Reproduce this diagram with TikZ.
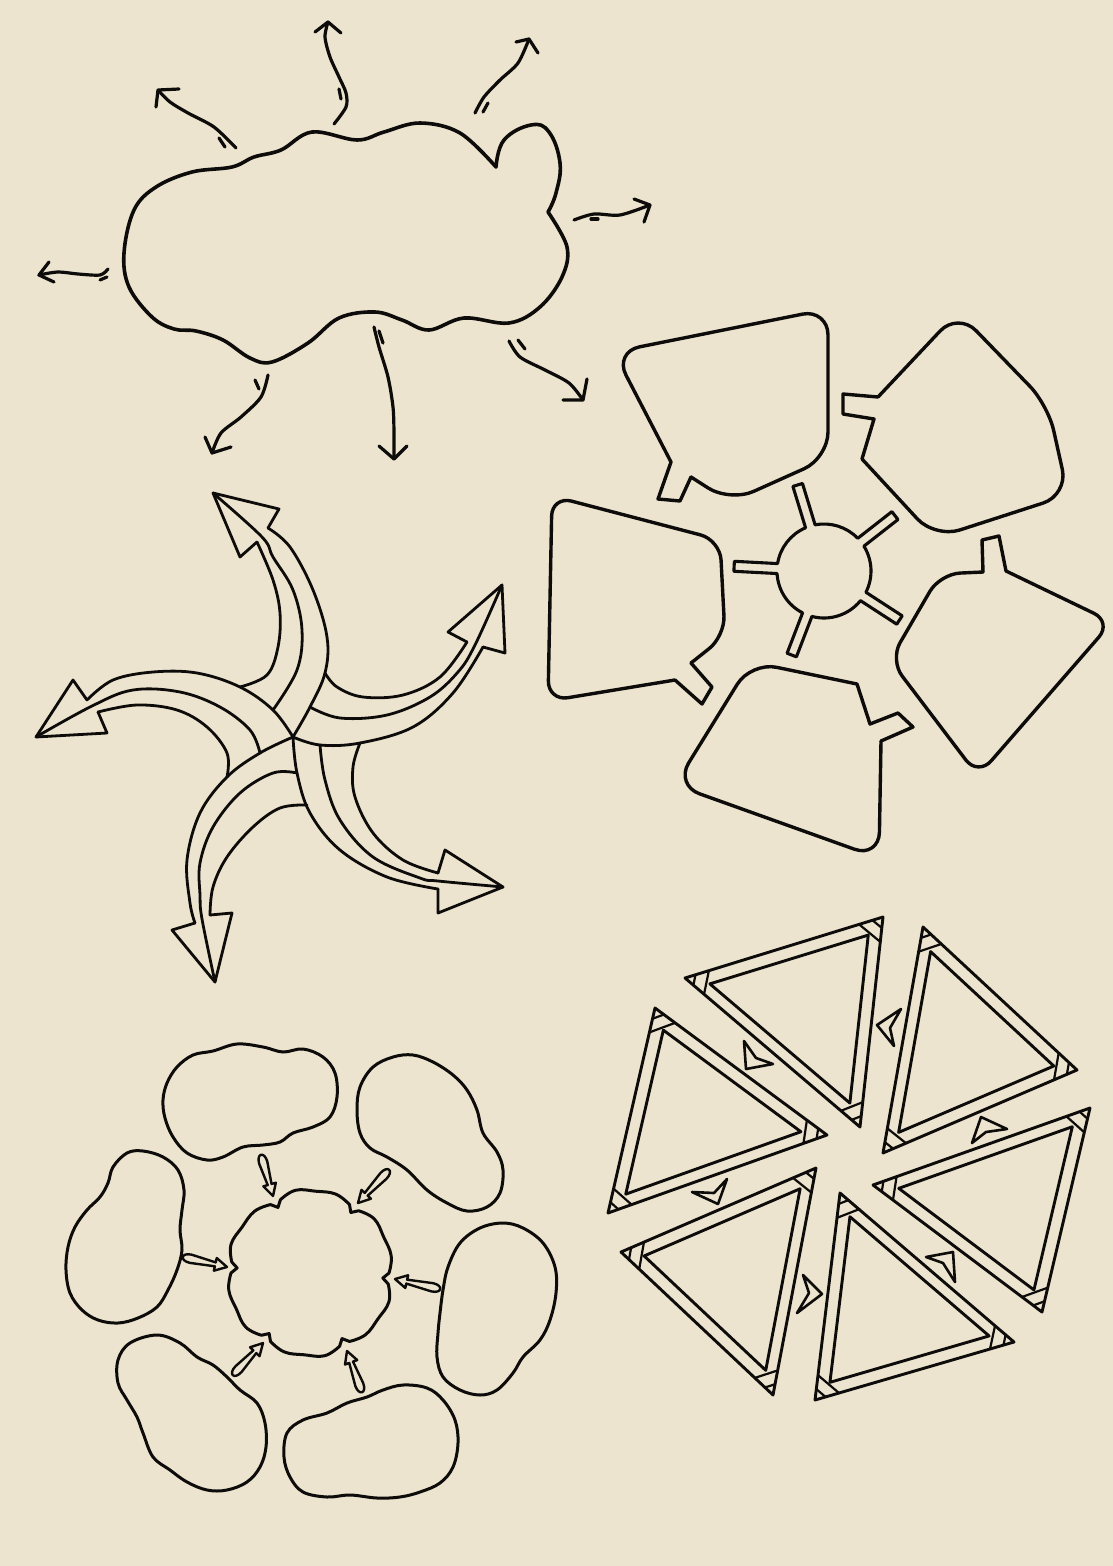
\documentclass[tikz,border=0pt]{standalone}
\usetikzlibrary{calc}
\definecolor{bgc}{RGB}{236,228,207}
\definecolor{inkc}{RGB}{14,12,10}
\tikzset{
  ink/.style={draw=inkc, line width=3.2pt, line cap=round, line join=round},
  cloudline/.style={ink, line width=3.6pt},
  arr/.style={ink, line width=3.2pt},
  lobe/.style={ink, line width=3.4pt},
  rib/.style={ink, line width=2.8pt},
  tri/.style={ink, line width=2.9pt},
  chev/.style={ink, line width=2.6pt},
  blob/.style={ink, line width=3pt},
  drop/.style={ink, line width=2.4pt},
}
\newcommand\hextri[3]{%
  \coordinate (tA) at #1;
  \coordinate (tB) at #2;
  \coordinate (tC) at #3;
  \coordinate (tG) at (barycentric cs:tA=1,tB=1,tC=1);
  \draw[tri] (tA) -- (tB) -- (tC) -- cycle;
  \draw[tri] ($(tG)!0.8!(tA)$) -- ($(tG)!0.8!(tB)$) -- ($(tG)!0.8!(tC)$) -- cycle;
  \foreach \v/\p/\q in {tA/tB/tC,tB/tC/tA,tC/tA/tB}{%
    \draw[tri, line width=2.2pt] ($(\v)!11pt!(\p)$) -- ($(\v)!11pt!(\q)$);
    \draw[tri, line width=2.2pt] ($(\v)!25pt!(\p)$) -- ($(\v)!25pt!(\q)$);
  }%
}
\newcommand\dropArrow[2]{%
  \coordinate (aT) at #1;
  \coordinate (aP) at #2;
  \coordinate (aB) at ($(aP)!12pt!(aT)$);
  \coordinate (aW) at ($(aT)!8pt!(aP)$);
  \coordinate (aE) at ($(aT)!-3pt!(aP)$);
  \draw[drop] ($(aB)!2pt!90:(aP)$) -- ($(aW)!4.2pt!90:(aP)$)
     .. controls ($(aE)!4.2pt!90:(aP)$) and ($(aE)!4.2pt!270:(aP)$) .. ($(aW)!4.2pt!270:(aP)$)
     -- ($(aB)!2pt!270:(aP)$) -- ($(aB)!6.5pt!270:(aP)$) -- (aP) -- ($(aB)!6.5pt!90:(aP)$) -- cycle;
}
\begin{document}
\begin{tikzpicture}[x=1pt,y=-1pt]
\fill[bgc] (0,0) rectangle (1113,1566);
\useasboundingbox (0,0) rectangle (1113,1566);

%================ CLOUD =================
\draw[cloudline] plot[smooth, tension=0.6] coordinates {(548,212) (567,247) (562,277) (540,307) (509,323) (464,318) (429,330) (402,320) (375,312) (339,318) (308,343) (272,362) (250,358) (223,340) (196,331) (174,329) (152,317) (129,287) (124,253) (134,210) (156,187) (192,172) (232,167) (254,157) (281,150) (312,132) (357,140) (384,132) (420,123) (460,133) (496,167)};
\draw[cloudline] plot[smooth, tension=0.7] coordinates {(496,167) (504,140) (531,125) (549,132) (560,163) (556,193) (548,212)};

% arrows around the cloud
\draw[arr] plot[smooth] coordinates {(236,148) (214,127) (188,113) (170,102) (158,90)};
\draw[arr] (179,89) -- (158,90) -- (156,107);
\draw[arr] (219,138) -- (225,147);

\draw[arr] plot[smooth] coordinates {(334,124) (346,107) (346,93) (339,77) (330,57) (325,37) (328,22)};
\draw[arr] (315,32) -- (328,22) -- (341,33);
\draw[arr] (339,89) -- (341,99);

\draw[arr] plot[smooth] coordinates {(475,113) (484,97) (500,80) (518,63) (529,39)};
\draw[arr] (516,42) -- (529,39) -- (538,53);
\draw[arr] (483,112) -- (488,103);

\draw[arr] plot[smooth] coordinates {(574,220) (594,214) (620,215) (650,205)};
\draw[arr] (634,199) -- (650,205) -- (644,222);
\draw[arr] (591,219) -- (598,219);

\draw[arr] plot[smooth] coordinates {(108,269) (100,275) (78,274) (58,272) (39,275)};
\draw[arr] (49,262) -- (39,275) -- (54,282);
\draw[arr] (100,280) -- (107,277);

\draw[arr] plot[smooth] coordinates {(268,375) (261,397) (241,417) (221,433) (212,453)};
\draw[arr] (205,437) -- (212,453) -- (231,447);
\draw[arr] (255,380) -- (259,389);

\draw[arr] plot[smooth] coordinates {(374,327) (379,347) (388,377) (393,407) (394,433) (394,459)};
\draw[arr] (379,446) -- (394,459) -- (407,446);
\draw[arr] (379,331) -- (383,343);

\draw[arr] plot[smooth] coordinates {(509,341) (520,357) (545,370) (569,383) (583,400)};
\draw[arr] (563,400) -- (583,400) -- (587,379);
\draw[arr] (518,340) -- (525,349);

%================ FLOWER OF LOBES =================
% lobe 1 (top)
\draw[lobe, rounded corners=26pt] (691,477) -- (730,502) -- (828,458) -- (828,309) -- (614,352) -- (671,462);
\draw[lobe] (671,462) -- (658,499) -- (680,501) -- (691,477);
% lobe 2 (upper right)
\draw[lobe, rounded corners=26pt] (862,459) -- (935,538) -- (1068,495) -- (1048,405) -- (958,312) -- (878,397);
\draw[lobe] (878,397) -- (843,394) -- (843,414) -- (874,419) -- (862,459);
% lobe 3 (right)
\draw[lobe, rounded corners=20pt] (1006,571) -- (1112,622) -- (978,776) -- (890,660) -- (940,574) -- (983,572);
\draw[lobe] (983,572) -- (982,540) -- (999,536) -- (1006,571);
% lobe 4 (bottom)
\draw[lobe, rounded corners=26pt] (881,741) -- (879,858) -- (675,785) -- (751,662) -- (857,684);
\draw[lobe] (857,684) -- (870,724) -- (898,713) -- (913,727) -- (881,741);
% lobe 5 (left)
\draw[lobe, rounded corners=20pt] (675,680) -- (548,701) -- (552,496) -- (720,540) -- (725,636) -- (691,663);
\draw[lobe] (691,663) -- (712,687) -- (702,704) -- (675,680);
% hub
\begin{scope}[shift={(824,571)}, yscale=-1]
\draw[lobe, line width=3.1pt] (-104.9:47) arc[start angle=-104.9, end angle=-39.1, radius=47]
  -- ($(-33:90)+(-123:5)$) -- ($(-33:90)+(57:5)$) -- (-26.9:47)
  arc[start angle=-26.9, end angle=31.9, radius=47]
  -- ($(38:90)+(-52:5)$) -- ($(38:90)+(128:5)$) -- (44.1:47)
  arc[start angle=44.1, end angle=100.9, radius=47]
  -- ($(107:90)+(17:5)$) -- ($(107:90)+(197:5)$) -- (113.1:47)
  arc[start angle=113.1, end angle=170.9, radius=47]
  -- ($(177:90)+(87:5)$) -- ($(177:90)+(267:5)$) -- (183.1:47)
  arc[start angle=183.1, end angle=242.9, radius=47]
  -- ($(249:90)+(159:5)$) -- ($(249:90)+(339:5)$) -- cycle;
\end{scope}

%================ RIBBON PINWHEEL ARROWS =================
% up arm
\draw[rib] plot[smooth, tension=0.6] coordinates {(240,687) (267,675) (278,647) (280,613) (273,580) (257,542)};
\draw[rib] plot[smooth, tension=0.6] coordinates {(273,710) (297,670) (302,630) (293,590) (273,557) (262,537) (213,493)};
\draw[rib] plot[smooth, tension=0.6] coordinates {(293,737) (310,707) (325,673) (327,637) (313,590) (290,547) (268,528)};
\draw[rib] (257,542) -- (240,557) -- (213,493) -- (279,509) -- (268,528);
% right-up arm
\draw[rib] plot[smooth, tension=0.6] coordinates {(325,673) (337,687) (363,697) (403,695) (440,677) (467,642)};
\draw[rib] plot[smooth, tension=0.6] coordinates {(310,707) (340,718) (387,715) (430,697) (458,672) (475,645) (502,585)};
\draw[rib] plot[smooth, tension=0.6] coordinates {(293,737) (320,745) (360,743) (413,727) (453,693) (483,647)};
\draw[rib] (467,642) -- (448,632) -- (502,585) -- (505,653) -- (483,647);
% right-down arm
\draw[rib] plot[smooth, tension=0.6] coordinates {(360,743) (353,767) (355,797) (373,833) (403,860) (438,873)};
\draw[rib] plot[smooth, tension=0.6] coordinates {(320,745) (325,780) (340,820) (373,857) (420,878) (438,881) (503,887)};
\draw[rib] plot[smooth, tension=0.6] coordinates {(293,737) (297,773) (310,813) (340,850) (387,877) (438,889)};
\draw[rib] (438,873) -- (445,850) -- (503,887) -- (438,913) -- (438,889);
% down arm
\draw[rib] plot[smooth, tension=0.6] coordinates {(307,805) (280,808) (253,827) (227,857) (213,887) (210,915)};
\draw[rib] plot[smooth, tension=0.6] coordinates {(297,773) (273,773) (240,793) (213,827) (200,863) (200,895) (202,919) (215,982)};
\draw[rib] plot[smooth, tension=0.6] coordinates {(293,737) (260,753) (227,777) (200,813) (187,860) (190,903) (195,923)};
\draw[rib] (210,915) -- (232,913) -- (215,982) -- (172,930) -- (195,923);
% left arm
\draw[rib] plot[smooth, tension=0.6] coordinates {(227,777) (227,753) (207,727) (177,710) (137,705) (98,712)};
\draw[rib] plot[smooth, tension=0.6] coordinates {(260,753) (250,730) (220,707) (180,692) (133,690) (92,706) (36,737)};
\draw[rib] plot[smooth, tension=0.6] coordinates {(293,737) (273,710) (240,687) (197,673) (153,672) (113,680) (87,700)};
\draw[rib] (98,712) -- (107,733) -- (36,737) -- (73,680) -- (87,700);

%================ TRIANGLE WHEEL =================
\hextri{(685,978)}{(883,917)}{(860,1127)}
\hextri{(923,927)}{(1077,1070)}{(883,1153)}
\hextri{(1090,1108)}{(1042,1312)}{(873,1185)}
\hextri{(840,1193)}{(1014,1342)}{(815,1400)}
\hextri{(816,1168)}{(773,1395)}{(621,1252)}
\hextri{(655,1008)}{(827,1135)}{(608,1213)}
% chevrons
\draw[chev] (744,1041) -- (746,1069) -- (773,1064) -- (756,1058) -- cycle;
\draw[chev] (901,1009) -- (877,1025) -- (894,1046) -- (890,1028) -- cycle;
\draw[chev] (972,1143) -- (981,1117) -- (1007,1129) -- (986,1132) -- cycle;
\draw[chev] (926,1257) -- (953,1252) -- (955,1282) -- (943,1263) -- cycle;
\draw[chev] (692,1192) -- (718,1204) -- (727,1179) -- (714,1193) -- cycle;
\draw[chev] (803,1275) -- (822,1294) -- (797,1313) -- (809,1293) -- cycle;

%================ BLOBS =================
\begin{scope}[shift={(310,1273)}, yscale=-1]
\draw[blob] (-124:73)
  -- plot[smooth, tension=0.7] coordinates {(-120:79) (-108:83) (-94:82) (-80:84) (-68:79)} -- (-64:73)
  -- plot[smooth, tension=0.7] coordinates {(-60:79) (-48:83) (-34:82) (-20:84) (-8:79)} -- (-4:73)
  -- plot[smooth, tension=0.7] coordinates {(0:79) (12:83) (26:82) (40:84) (52:79)} -- (56:73)
  -- plot[smooth, tension=0.7] coordinates {(60:79) (72:83) (86:82) (100:84) (112:79)} -- (116:73)
  -- plot[smooth, tension=0.7] coordinates {(120:79) (132:83) (146:82) (160:84) (172:79)} -- (176:73)
  -- plot[smooth, tension=0.7] coordinates {(180:79) (192:83) (206:82) (220:84) (232:79)} -- cycle;
\end{scope}
\draw[blob] plot[smooth cycle, tension=0.6] coordinates {(163,1100) (167,1083) (177,1067) (193,1055) (213,1051) (237,1044) (263,1047) (283,1052) (303,1049) (323,1057) (335,1073) (337,1097) (330,1117) (313,1127) (293,1133) (280,1142) (263,1145) (243,1147) (223,1157) (207,1160) (187,1153) (173,1137) (165,1118)};
\draw[blob] plot[smooth cycle, tension=0.6] coordinates {(357,1110) (360,1087) (373,1067) (393,1057) (413,1055) (433,1062) (453,1075) (467,1090) (477,1110) (483,1133) (497,1152) (503,1170) (500,1193) (487,1207) (467,1211) (447,1203) (427,1190) (407,1170) (387,1157) (370,1148) (360,1133)};
\draw[blob] plot[smooth cycle, tension=0.6] coordinates {(143,1151) (163,1157) (178,1170) (184,1190) (182,1210) (180,1230) (182,1250) (177,1270) (168,1290) (157,1307) (138,1318) (118,1323) (98,1320) (82,1310) (70,1293) (66,1270) (68,1247) (75,1227) (87,1210) (100,1197) (108,1183) (113,1167) (127,1153)};
\draw[blob] plot[smooth cycle, tension=0.6] coordinates {(503,1223) (523,1228) (543,1243) (555,1267) (556,1293) (550,1320) (540,1340) (523,1357) (513,1373) (497,1390) (480,1395) (460,1390) (443,1377) (437,1357) (438,1333) (440,1313) (443,1290) (448,1267) (460,1243) (480,1228)};
\draw[blob] plot[smooth cycle, tension=0.6] coordinates {(157,1335) (180,1343) (197,1357) (213,1365) (227,1377) (240,1390) (257,1403) (265,1423) (266,1447) (260,1467) (247,1482) (227,1490) (207,1490) (187,1482) (170,1470) (153,1457) (143,1433) (137,1417) (127,1400) (118,1383) (118,1360) (130,1343)};
\draw[blob] plot[smooth cycle, tension=0.6] coordinates {(287,1433) (303,1420) (327,1413) (347,1403) (367,1397) (383,1390) (403,1385) (427,1388) (443,1400) (455,1420) (458,1443) (453,1467) (440,1483) (420,1492) (400,1497) (377,1498) (350,1495) (327,1497) (303,1492) (290,1477) (284,1457)};
% small arrows into the centre
\dropArrow{(261,1155)}{(273,1196)}
\dropArrow{(389,1170)}{(358,1203)}
\dropArrow{(183,1257)}{(227,1267)}
\dropArrow{(440,1289)}{(395,1279)}
\dropArrow{(233,1375)}{(263,1343)}
\dropArrow{(362,1392)}{(347,1351)}
\end{tikzpicture}
\end{document}
